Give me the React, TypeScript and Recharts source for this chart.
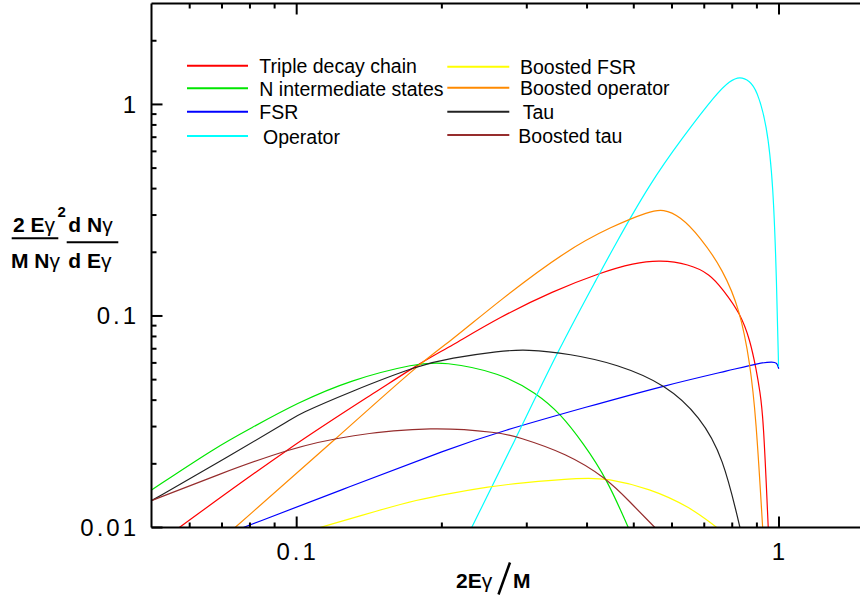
import { LineChart, Line, XAxis, YAxis, ReferenceLine } from 'recharts'

const W = 880
const H = 601
const LEFT = 151.5
const TOP = 3.5
const BOTTOM = 527.5
const FONT = '"Liberation Sans", Arial, sans-serif'

// tick values (log axes)
const xMajor = [0.1, 1]
const xTicks = [0.06, 0.07, 0.08, 0.09, 0.1, 0.2, 0.3, 0.4, 0.5, 0.6, 0.7, 0.8, 0.9, 1]
const yMajor = [0.01, 0.1, 1]
const yTicks = [
  0.01, 0.02, 0.03, 0.04, 0.05, 0.06, 0.07, 0.08, 0.09,
  0.1, 0.2, 0.3, 0.4, 0.5, 0.6, 0.7, 0.8, 0.9, 1, 2,
]

// series: [2E/M, value]
const tripleDecay = [
  [0.0571, 0.01], [0.0969, 0.0241], [0.15, 0.0455], [0.18, 0.0598], [0.208, 0.0716],
  [0.264, 0.099], [0.34, 0.131], [0.4256, 0.16], [0.5, 0.178], [0.567, 0.184],
  [0.65, 0.176], [0.719, 0.158], [0.766, 0.133], [0.831, 0.103], [0.871, 0.077],
  [0.8975, 0.0556], [0.913, 0.044], [0.928, 0.0334], [0.95, 0.01],
]
const nIntermediate = [
  [0.05, 0.01504], [0.0683, 0.0241], [0.08, 0.0293], [0.1, 0.0387], [0.129, 0.0498],
  [0.1773, 0.0598], [0.2014, 0.0608], [0.264, 0.054], [0.3145, 0.0431], [0.3515, 0.0347],
  [0.393, 0.025], [0.439, 0.0171], [0.487, 0.01],
]
const fsr = [
  [0.0775, 0.01], [0.129, 0.0156], [0.208, 0.0237], [0.264, 0.0284], [0.4, 0.0372],
  [0.585, 0.0472], [0.8, 0.0557], [0.913, 0.06], [0.97, 0.0608], [0.99, 0.0602], [0.999, 0.0563],
]
const operator = [
  [0.2306, 0.01], [0.286, 0.0269], [0.3486, 0.069], [0.4256, 0.16], [0.451, 0.205],
  [0.54, 0.424], [0.633, 0.704], [0.743, 1.13], [0.79, 1.29], [0.83, 1.36],
  [0.87, 1.29], [0.899, 1.171], [0.943, 0.815], [0.973, 0.424], [0.989, 0.1427], [0.998, 0.0576],
]
const boostedFsr = [
  [0.1117, 0.01], [0.1489, 0.0121], [0.1773, 0.0135], [0.208, 0.0145], [0.2517, 0.0156],
  [0.286, 0.0162], [0.393, 0.0172], [0.439, 0.0171], [0.54, 0.0153], [0.654, 0.0125], [0.743, 0.01],
]
const boostedOperator = [
  [0.0745, 0.01], [0.122, 0.0269], [0.18, 0.0598], [0.208, 0.0756], [0.264, 0.119],
  [0.363, 0.205], [0.45, 0.265], [0.54, 0.313], [0.575, 0.32], [0.623, 0.297],
  [0.686, 0.237], [0.766, 0.165], [0.83, 0.1067], [0.871, 0.0598], [0.896, 0.0334], [0.925, 0.01],
]
const tau = [
  [0.05, 0.0134], [0.0683, 0.0201], [0.0984, 0.0328], [0.1, 0.034], [0.129, 0.0438],
  [0.18, 0.0587], [0.208, 0.0631], [0.264, 0.0683], [0.2996, 0.0696], [0.3687, 0.0662],
  [0.461, 0.0593], [0.585, 0.0472], [0.686, 0.0334], [0.766, 0.0216], [0.83, 0.01],
]
const boostedTau = [
  [0.05, 0.0134], [0.0683, 0.0177], [0.0969, 0.0237], [0.129, 0.0274], [0.1919, 0.03],
  [0.264, 0.0281], [0.286, 0.0269], [0.363, 0.0224], [0.439, 0.0171], [0.491, 0.0132], [0.553, 0.01],
]

const series = [
  { name: 'Triple decay chain', data: tripleDecay, color: '#ff0000' },
  { name: 'N intermediate states', data: nIntermediate, color: '#00e600' },
  { name: 'FSR', data: fsr, color: '#0000ff' },
  { name: 'Operator', data: operator, color: '#00ffff' },
  { name: 'Boosted FSR', data: boostedFsr, color: '#ffff00' },
  { name: 'Boosted operator', data: boostedOperator, color: '#ff8a00' },
  { name: 'Tau', data: tau, color: '#222222' },
  { name: 'Boosted tau', data: boostedTau, color: '#962d2d' },
]

const toPoints = (arr: number[][]) => arr.map(([x, y]) => ({ x, y }))

const XTick = ({ x, payload }: any) => {
  const v = payload.value
  const major = xMajor.includes(v)
  const len = major ? 11 : 5
  return (
    <g>
      <line x1={x} x2={x} y1={BOTTOM} y2={BOTTOM - len} stroke="#000" strokeWidth={2} />
      <line x1={x} x2={x} y1={TOP} y2={TOP + len} stroke="#000" strokeWidth={2} />
      {major && (
        <text x={x + 1} y={560} textAnchor="middle" fontSize={24} fontFamily={FONT} fill="#000" letterSpacing={3}>
          {v}
        </text>
      )}
    </g>
  )
}

const YTick = ({ y, payload }: any) => {
  const v = payload.value
  const major = yMajor.includes(v)
  const len = major ? 11 : 5
  return (
    <g>
      <line x1={LEFT} x2={LEFT + len} y1={y} y2={y} stroke="#000" strokeWidth={2} />
      {major && (
        <text x={139} y={y + 8.5} textAnchor="end" fontSize={24} fontFamily={FONT} fill="#000" letterSpacing={3}>
          {v}
        </text>
      )}
    </g>
  )
}

// legend layout: two columns of four entries
const legendLeft = [0, 1, 2, 3]
const legendRight = [4, 5, 6, 7]
const leftRowY = [65.7, 88.3, 111.7, 136]
const rightRowY = [66.7, 87.7, 111.7, 135]
const rightTextX = [520, 520, 522.7, 518.3]

function Overlay() {
  const bold = { fontFamily: FONT, fontWeight: 700, fontSize: 21, fill: '#000' }
  return (
    <svg width={860} height={601} style={{ position: 'absolute', left: 0, top: 0, pointerEvents: 'none' }}>
      {legendLeft.map((si, i) => (
        <g key={si}>
          <line x1={187} x2={248} y1={leftRowY[i]} y2={leftRowY[i]} stroke={series[si].color} strokeWidth={2} />
          <text x={si === 3 ? 263 : 259.3} y={leftRowY[i] + 7.5} fontSize={19.5} fontFamily={FONT} fill="#000">
            {series[si].name}
          </text>
        </g>
      ))}
      {legendRight.map((si, i) => (
        <g key={si}>
          <line x1={447.3} x2={509.3} y1={rightRowY[i]} y2={rightRowY[i]} stroke={series[si].color} strokeWidth={2} />
          <text x={rightTextX[i]} y={rightRowY[i] + 7.5} fontSize={19.5} fontFamily={FONT} fill="#000">
            {series[si].name}
          </text>
        </g>
      ))}

      {/* y axis title */}
      <text x={13} y={232} {...bold}>
        2 E<tspan fontWeight={400}>γ</tspan>
      </text>
      <text x={57.5} y={217} {...bold} fontSize={15}>2</text>
      <line x1={11.7} x2={58.3} y1={238.3} y2={238.3} stroke="#000" strokeWidth={2} />
      <text x={11} y={268.3} {...bold}>
        M N<tspan fontWeight={400}>γ</tspan>
      </text>
      <text x={68.3} y={232} {...bold}>
        d N<tspan fontWeight={400}>γ</tspan>
      </text>
      <line x1={66.7} x2={118.3} y1={242.3} y2={242.3} stroke="#000" strokeWidth={2} />
      <text x={68.3} y={268.3} {...bold}>
        d E<tspan fontWeight={400}>γ</tspan>
      </text>

      {/* x axis title */}
      <text x={456} y={588} {...bold}>
        2E<tspan fontWeight={400}>γ</tspan>
      </text>
      <line x1={510} x2={498.5} y1={562.5} y2={594.5} stroke="#000" strokeWidth={2.5} />
      <text x={513} y={588} {...bold}>M</text>
    </svg>
  )
}

export default function App() {
  return (
    <div style={{ position: 'absolute', left: 0, top: 0, width: 860, height: 601, overflow: 'hidden', background: '#fff' }}>
      <LineChart width={W} height={H} margin={{ top: TOP, right: W - 863.9, left: 0, bottom: 0 }}>
        <XAxis
          dataKey="x"
          type="number"
          scale="log"
          domain={[0.05, 1.5]}
          allowDataOverflow
          ticks={xTicks}
          interval={0}
          height={H - BOTTOM}
          tick={<XTick />}
          tickLine={false}
          axisLine={{ stroke: '#000', strokeWidth: 2 }}
        />
        <YAxis
          dataKey="y"
          type="number"
          scale="log"
          domain={[0.01, 3]}
          allowDataOverflow
          ticks={yTicks}
          interval={0}
          width={LEFT}
          tick={<YTick />}
          tickLine={false}
          axisLine={{ stroke: '#000', strokeWidth: 2 }}
        />
        <ReferenceLine y={3} stroke="#000" strokeWidth={2} />
        {series.map((s) => (
          <Line
            key={s.name}
            data={toPoints(s.data)}
            dataKey="y"
            name={s.name}
            type="basis"
            stroke={s.color}
            strokeWidth={1.2}
            dot={false}
            isAnimationActive={false}
          />
        ))}
      </LineChart>
      <Overlay />
    </div>
  )
}
